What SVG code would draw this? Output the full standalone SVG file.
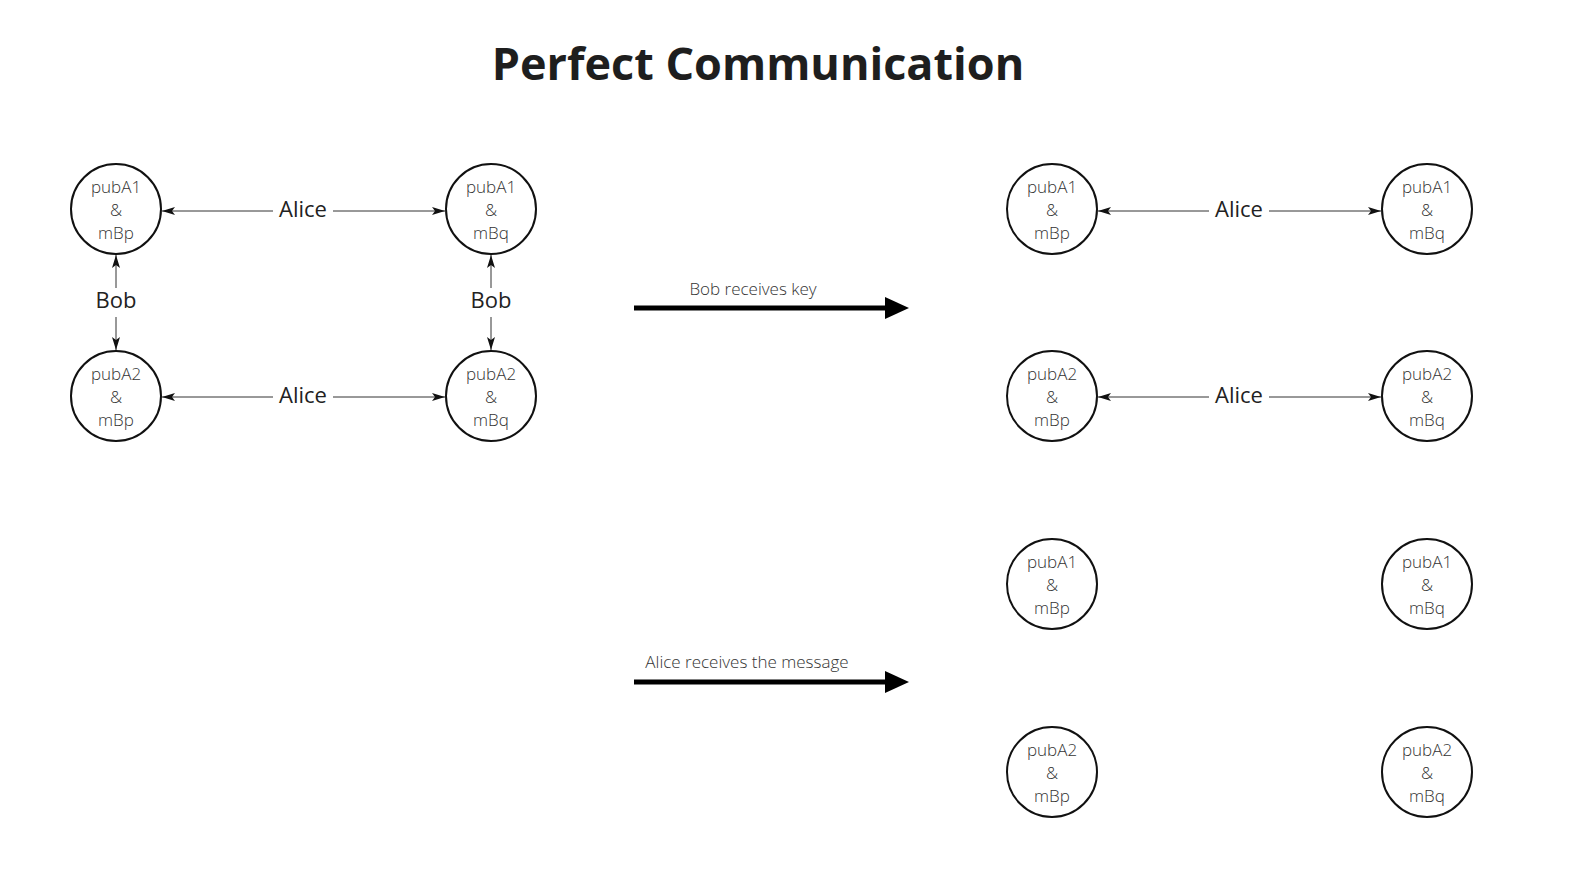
<svg xmlns="http://www.w3.org/2000/svg" width="1581" height="882" viewBox="0 0 1581 882">
<defs>
<marker id="ah" markerWidth="13" markerHeight="9" refX="13" refY="4.5" orient="auto" markerUnits="userSpaceOnUse">
<path d="M0,0.5 L13,4.5 L0,8.5 L3,4.5 Z" fill="#111"/>
</marker>
</defs>
<style>
.node circle{fill:#fff;stroke:#111;stroke-width:2}
.node text{font-family:"Open Sans","Noto Sans",sans-serif;font-size:17px;font-weight:300;fill:#333;text-anchor:middle}
.lbl{font-family:"Open Sans","Noto Sans",sans-serif;font-size:22px;fill:#222;text-anchor:middle}
.cap{font-family:"Open Sans","Noto Sans",sans-serif;font-size:17px;font-weight:300;fill:#333;text-anchor:middle}
.thin{stroke:#333;stroke-width:1;fill:none;marker-end:url(#ah)}
.thick{stroke:#000;stroke-width:5;fill:none}
.title{font-family:"Open Sans","Noto Sans",sans-serif;font-size:45px;font-weight:bold;fill:#1e1e1e;text-anchor:middle}
</style>
<rect width="1581" height="882" fill="#fff"/>
<text class="title" x="758" y="80">Perfect Communication</text>

<g id="connectors">
<line class="thin" x1="273" y1="211" x2="162" y2="211"/>
<line class="thin" x1="333" y1="211" x2="445" y2="211"/>
<line class="thin" x1="273" y1="397" x2="162" y2="397"/>
<line class="thin" x1="333" y1="397" x2="445" y2="397"/>
<line class="thin" x1="116" y1="288" x2="116" y2="255"/>
<line class="thin" x1="116" y1="317" x2="116" y2="350"/>
<line class="thin" x1="491" y1="288" x2="491" y2="255"/>
<line class="thin" x1="491" y1="317" x2="491" y2="350"/>
<line class="thin" x1="1209" y1="211" x2="1098" y2="211"/>
<line class="thin" x1="1269" y1="211" x2="1381" y2="211"/>
<line class="thin" x1="1209" y1="397" x2="1098" y2="397"/>
<line class="thin" x1="1269" y1="397" x2="1381" y2="397"/>
<text class="lbl" x="303" y="217">Alice</text>
<text class="lbl" x="303" y="403">Alice</text>
<text class="lbl" x="116" y="308">Bob</text>
<text class="lbl" x="491" y="308">Bob</text>
<text class="lbl" x="1239" y="217">Alice</text>
<text class="lbl" x="1239" y="403">Alice</text>
<g id="arrow-bob">
<line class="thick" x1="634" y1="308" x2="888" y2="308"/>
<polygon points="885,297 909,308 885,319" fill="#000"/>
<text class="cap" x="753" y="295">Bob receives key</text>
</g>
<g id="arrow-alice">
<line class="thick" x1="634" y1="682" x2="888" y2="682"/>
<polygon points="885,671 909,682 885,693" fill="#000"/>
<text class="cap" x="747" y="668">Alice receives the message</text>
</g>
</g>

<g id="n1" class="node"><circle cx="116" cy="209" r="45"/><text x="116" y="193">pubA1</text><text x="116" y="216">&amp;</text><text x="116" y="239">mBp</text></g>
<g id="n2" class="node"><circle cx="491" cy="209" r="45"/><text x="491" y="193">pubA1</text><text x="491" y="216">&amp;</text><text x="491" y="239">mBq</text></g>
<g id="n3" class="node"><circle cx="116" cy="396" r="45"/><text x="116" y="380">pubA2</text><text x="116" y="403">&amp;</text><text x="116" y="426">mBp</text></g>
<g id="n4" class="node"><circle cx="491" cy="396" r="45"/><text x="491" y="380">pubA2</text><text x="491" y="403">&amp;</text><text x="491" y="426">mBq</text></g>

<g id="n5" class="node"><circle cx="1052" cy="209" r="45"/><text x="1052" y="193">pubA1</text><text x="1052" y="216">&amp;</text><text x="1052" y="239">mBp</text></g>
<g id="n6" class="node"><circle cx="1427" cy="209" r="45"/><text x="1427" y="193">pubA1</text><text x="1427" y="216">&amp;</text><text x="1427" y="239">mBq</text></g>
<g id="n7" class="node"><circle cx="1052" cy="396" r="45"/><text x="1052" y="380">pubA2</text><text x="1052" y="403">&amp;</text><text x="1052" y="426">mBp</text></g>
<g id="n8" class="node"><circle cx="1427" cy="396" r="45"/><text x="1427" y="380">pubA2</text><text x="1427" y="403">&amp;</text><text x="1427" y="426">mBq</text></g>

<g id="n9" class="node"><circle cx="1052" cy="584" r="45"/><text x="1052" y="568">pubA1</text><text x="1052" y="591">&amp;</text><text x="1052" y="614">mBp</text></g>
<g id="n10" class="node"><circle cx="1427" cy="584" r="45"/><text x="1427" y="568">pubA1</text><text x="1427" y="591">&amp;</text><text x="1427" y="614">mBq</text></g>
<g id="n11" class="node"><circle cx="1052" cy="772" r="45"/><text x="1052" y="756">pubA2</text><text x="1052" y="779">&amp;</text><text x="1052" y="802">mBp</text></g>
<g id="n12" class="node"><circle cx="1427" cy="772" r="45"/><text x="1427" y="756">pubA2</text><text x="1427" y="779">&amp;</text><text x="1427" y="802">mBq</text></g>
</svg>
